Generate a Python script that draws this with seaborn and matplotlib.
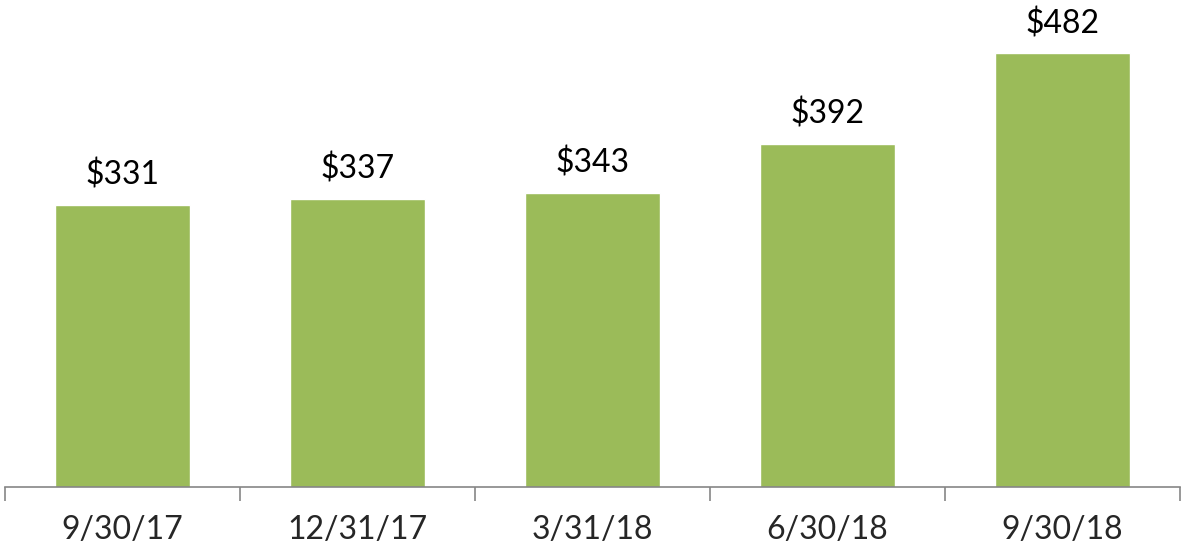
import matplotlib.pyplot as plt
import seaborn as sns
import pandas as pd

# data
dates = ["9/30/17", "12/31/17", "3/31/18", "6/30/18", "9/30/18"]
values = [331, 337, 343, 392, 482]
value_labels = ["$331", "$337", "$343", "$392", "$482"]

df = pd.DataFrame({"date": dates, "value": values})

sns.set_style("white")
plt.rcParams["font.family"] = ["Lato", "DejaVu Sans"]

fig = plt.figure(figsize=(11.85, 5.54), dpi=100)
ax = fig.add_axes([5 / 1185, (554 - 487) / 554, 1175 / 1185, 487 / 554])

sns.barplot(data=df, x="date", y="value", color="#9BBB59", saturation=1,
            width=0.575, ax=ax)

# value labels above bars
for i, lab in enumerate(value_labels):
    ax.annotate(lab, (i, values[i]), xytext=(0, 10), textcoords="offset points",
                ha="center", va="bottom", fontsize=23, color="black")

ax.set_ylim(50, 535)
ax.set_xlim(-0.5, 4.5)
ax.set_xlabel("")
ax.set_ylabel("")
ax.set_yticks([])

# axis styling: only the bottom line, ticks between categories
for s in ["top", "left", "right"]:
    ax.spines[s].set_visible(False)
ax.spines["bottom"].set_color("#868686")
ax.spines["bottom"].set_linewidth(1.2)

ax.set_xticks(range(len(dates)))
ax.set_xticklabels(dates, fontsize=23)
ax.tick_params(axis="x", which="major", length=0, pad=20, bottom=True)
ax.set_xticks([-0.5, 0.5, 1.5, 2.5, 3.5, 4.5], minor=True)
ax.tick_params(axis="x", which="minor", length=10, width=1.2, color="#868686",
               direction="out", bottom=True)

fig.savefig("out.png", dpi=100)
